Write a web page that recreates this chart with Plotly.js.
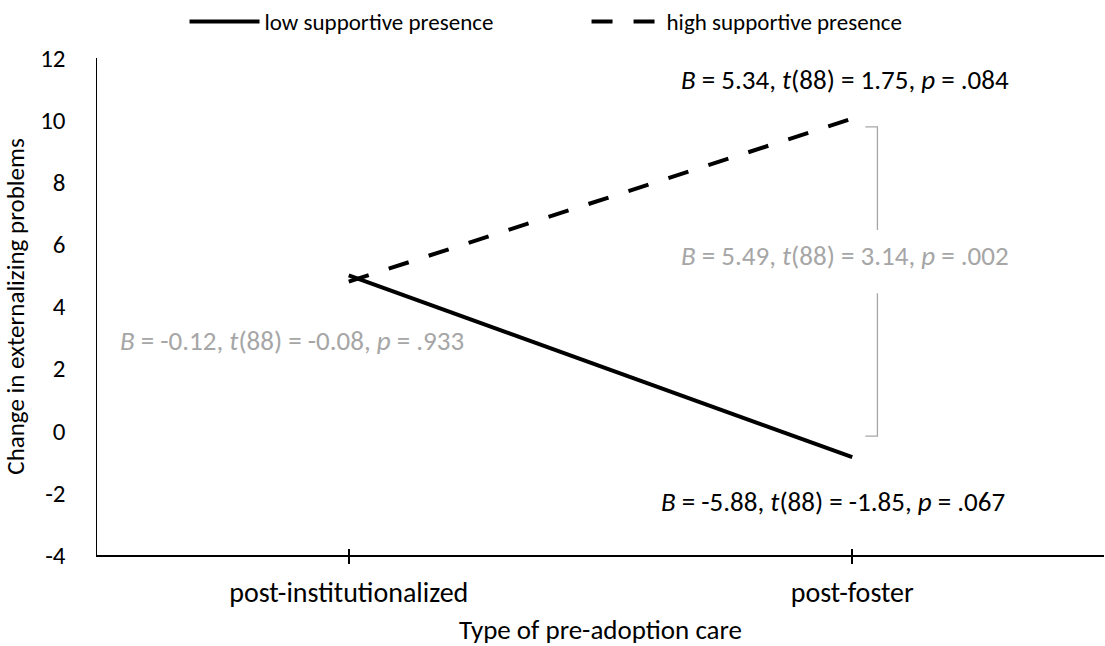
<!DOCTYPE html>
<html>
<head>
<meta charset="utf-8">
<script src="https://cdn.plot.ly/plotly-3.0.1.min.js"></script>
<style>html,body{margin:0;padding:0;background:#fff;}#chart{width:1105px;height:646px;}</style>
</head>
<body>
<div id="chart"></div>
<script>
const categories = ["post-institutionalized", "post-foster"];
const lowSupport = [5.0, -0.85];
const highSupport = [4.8, 10.05];
const seriesNames = ["low supportive presence", "high supportive presence"];
const yTicks = [-4, -2, 0, 2, 4, 6, 8, 10, 12];
const yTickText = ["-4", "-2", "0", "2", "4", "6", "8", "10", "12"];
const statHigh = "<i>B</i> = 5.34, <i>t</i>(88) = 1.75, <i>p</i> = .084";
const statLow = "<i>B</i> = -5.88, <i>t</i>(88) = -1.85, <i>p</i> = .067";
const statFoster = "<i>B</i> = 5.49, <i>t</i>(88) = 3.14, <i>p</i> = .002";
const statInst = "<i>B</i> = -0.12, <i>t</i>(88) = -0.08, <i>p</i> = .933";

const FONT = "Carlito, Calibri, Lato, sans-serif";
const GRAY = "#a6a6a6";

const traces = [
  {x: categories, y: lowSupport, name: seriesNames[0], type: "scatter", mode: "lines",
   line: {color: "#000", width: 4}},
  {x: categories, y: highSupport, name: seriesNames[1], type: "scatter", mode: "lines",
   line: {color: "#000", width: 4, dash: "21px,21px"}},
  {x: categories, y: [null, null], xaxis: "x2", showlegend: false, hoverinfo: "skip", type: "scatter"}
];

const layout = {
  width: 1105, height: 646,
  paper_bgcolor: "#fff", plot_bgcolor: "#fff",
  margin: {l: 97, r: 1, t: 58, b: 91},
  font: {family: FONT, size: 24, color: "#000"},
  showlegend: true,
  legend: {orientation: "h", x: 0.167, xanchor: "left", y: 1, yanchor: "top", xref: "container", yref: "container",
    font: {family: FONT, size: 23, color: "#000"}, itemwidth: 70, entrywidth: 317, entrywidthmode: "pixels",
    traceorder: "normal", tracegroupgap: 0},
  xaxis: {
    type: "category", range: [-0.5, 1.5], showgrid: false, zeroline: false,
    showline: true, linecolor: "#000", linewidth: 1.5,
    ticks: "outside", ticklen: 7, tickwidth: 2, tickcolor: "#000",
    ticklabelstandoff: 5,
    tickfont: {family: FONT, size: 28, color: "#000"},
    title: {text: "Type of pre-adoption care", font: {family: FONT, size: 27, color: "#000"}, standoff: 12}
  },
  xaxis2: {
    type: "category", range: [-0.5, 1.5], overlaying: "x", matches: "x", showgrid: false, zeroline: false,
    showline: false, ticks: "inside", ticklen: 6, tickwidth: 2, tickcolor: "#000", showticklabels: false
  },
  yaxis: {
    range: [-4, 12], tickmode: "array", tickvals: yTicks, ticktext: yTickText, showgrid: false, zeroline: false,
    showline: true, linecolor: "#000", linewidth: 1.5, ticks: "",
    ticklabelstandoff: 25,
    tickfont: {family: FONT, size: 25, color: "#000"},
    title: {text: "Change in externalizing problems", font: {family: FONT, size: 25, color: "#000"}, standoff: 13}
  },
  shapes: [
    {type: "path", xref: "paper", yref: "y",
     path: "M 0.763 9.78 L 0.775 9.78 L 0.775 6.46", line: {color: GRAY, width: 1.3}},
    {type: "path", xref: "paper", yref: "y",
     path: "M 0.775 4.43 L 0.775 -0.17 L 0.763 -0.17", line: {color: GRAY, width: 1.3}}
  ],
  annotations: [
    {text: statHigh, xref: "paper", yref: "y", x: 0.743, y: 11.3, xanchor: "center", showarrow: false, font: {family: FONT, size: 27, color: "#000"}},
    {text: statFoster, xref: "paper", yref: "y", x: 0.743, y: 5.63, xanchor: "center", showarrow: false, font: {family: FONT, size: 27, color: GRAY}},
    {text: statInst, xref: "paper", yref: "y", x: 0.194, y: 2.89, xanchor: "center", showarrow: false, font: {family: FONT, size: 27, color: GRAY}},
    {text: statLow, xref: "paper", yref: "y", x: 0.731, y: -2.29, xanchor: "center", showarrow: false, font: {family: FONT, size: 27, color: "#000"}}
  ]
};

Plotly.newPlot("chart", traces, layout, {displayModeBar: false, staticPlot: true});
</script>
</body>
</html>
